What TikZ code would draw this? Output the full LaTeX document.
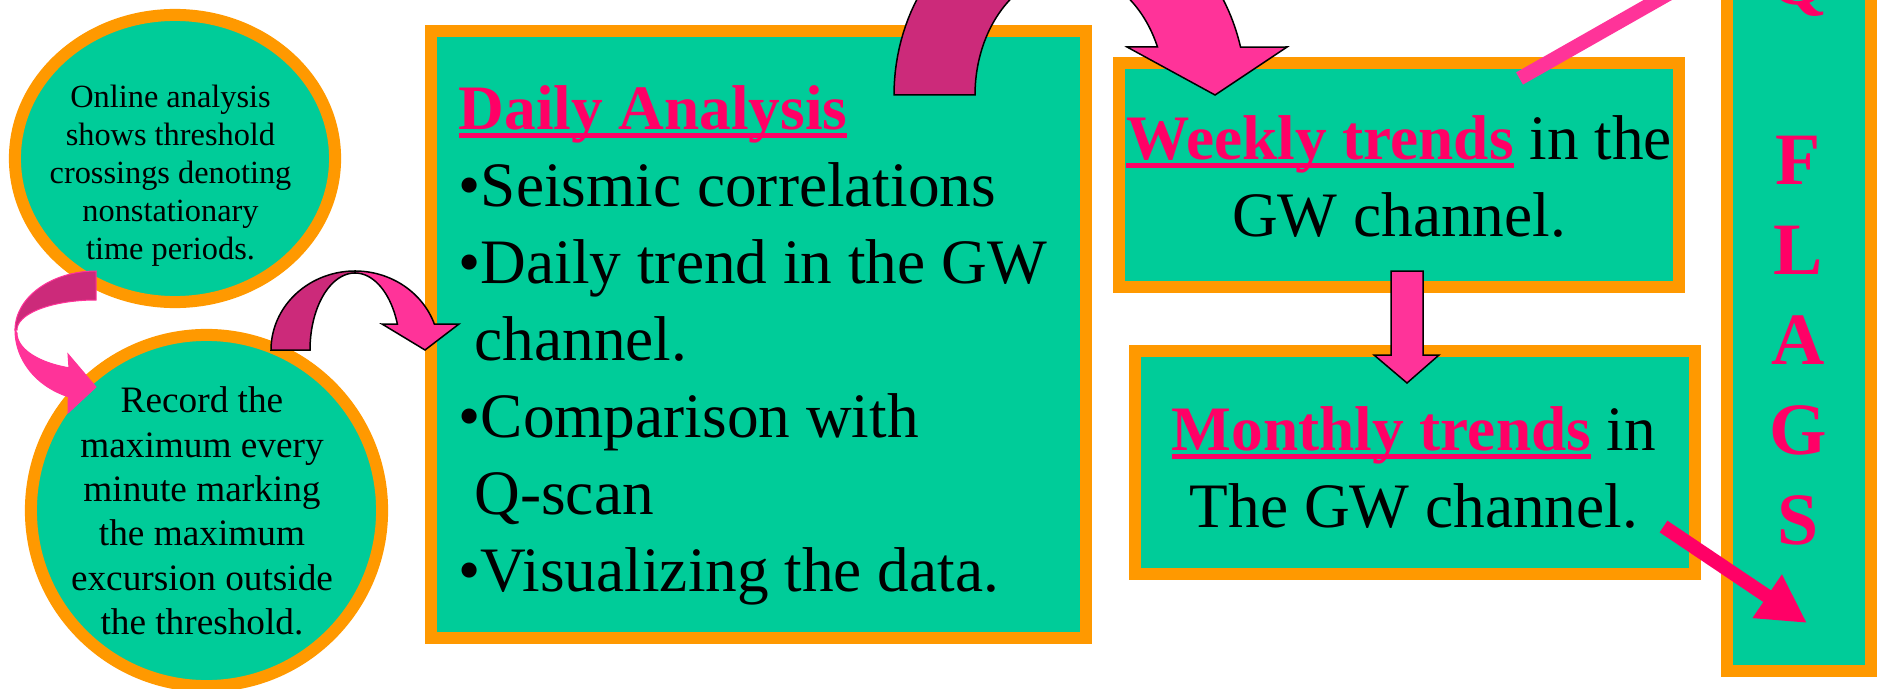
\documentclass[tikz,border=0pt]{standalone}
\usepackage{fontspec}
\setmainfont{Liberation Serif}
\usetikzlibrary{arrows.meta,positioning,shapes.geometric}
\definecolor{seagreen}{HTML}{00CC99}
\definecolor{amber}{HTML}{FF9900}
\definecolor{hotpink}{HTML}{FF3399}
\definecolor{rosered}{HTML}{FF0066}
\definecolor{plum}{HTML}{CC2A7A}
\newsavebox{\ulbox}
\newcommand{\headul}[1]{\sbox{\ulbox}{#1}\rlap{\rule[-0.14em]{\wd\ulbox}{0.09em}}\usebox{\ulbox}}

\begin{document}
\begin{tikzpicture}[x=0.01cm,y=-0.01cm,
  panel/.style={draw=amber,line width=0.12cm,fill=seagreen,inner sep=0pt},
  ribbonback/.style={fill=plum,draw=black,line width=0.015cm},
  ribbonfront/.style={fill=hotpink,draw=black,line width=0.015cm},
  bodytext/.style={inner sep=0pt,font=\fontsize{18}{21.9}\selectfont}]
  \useasboundingbox (0,0) rectangle (1877,688);
  \clip (0,0) rectangle (1877,688);
  \fill[white] (0,0) rectangle (1877,688);
  % panels
  \node[panel,ellipse,minimum width=3.2cm,minimum height=2.87cm] (online) at (175,158.5) {};
  \node[panel,circle,minimum size=3.51cm] (record) at (206.5,510.5) {};
  \node[panel,minimum width=6.55cm,minimum height=6.07cm] (daily) at (758.5,334.5) {};
  \node[panel,minimum width=5.6cm,minimum height=2.24cm] (weekly) at (1399,175) {};
  \node[panel,minimum width=5.6cm,minimum height=2.23cm] (monthly) at (1415,462.5) {};
  \node[panel,minimum width=1.44cm,minimum height=7.71cm] (flags) at (1799,285.5) {};
  % texts
  \node[inner sep=0pt,align=center,font=\fontsize{9.2}{10.8}\selectfont] (onlinetxt) at (170.5,175.5)
    {Online analysis\\shows threshold\\crossings denoting\\nonstationary\\time periods.};
  \node[inner sep=0pt,align=center,font=\fontsize{10.6}{12.63}\selectfont] (recordtxt) at (202,511)
    {Record the\\maximum every\\minute marking\\the maximum\\excursion outside\\the threshold.};
  \node[bodytext,align=left,anchor=west] (dailytxt) at (458,345.5)
    {{\color{rosered}\headul{\textbf{Daily Analysis}}}\\
     •Seismic correlations\\
     •Daily trend in the GW\\
     \hspace*{0.25em}channel.\\
     •Comparison with\\
     \hspace*{0.25em}Q-scan\\
     •Visualizing the data.};
  \node[bodytext,align=center] (weeklytxt) at (1399,176.5)
    {{\color{rosered}\headul{\textbf{Weekly trends}}} in the\\GW channel.};
  \node[bodytext,align=center] (monthlytxt) at (1414,467.5)
    {{\color{rosered}\headul{\textbf{Monthly trends}}} in\\The GW channel.};
  \node[inner sep=0pt,align=center,text=rosered,font=\bfseries\fontsize{21}{25.6}\selectfont] (flagstxt) at (1798,250.5)
    {Q\\[25.6pt]F\\L\\A\\G\\S};
  % curved block arrows
  \filldraw[fill=plum,draw=hotpink,line width=0.01cm]
    plot[variable=\t,domain=270:180,samples=40] ({96+81*cos(\t)},{330+59*sin(\t)})
    -- plot[variable=\t,domain=180:270,samples=40] ({96+79*cos(\t)},{330+30*sin(\t)}) -- cycle;
  \filldraw[fill=hotpink,draw=hotpink,line width=0.01cm]
    plot[variable=\t,domain=180:110,samples=40] ({96+81*cos(\t)},{330+71*sin(\t)})
    -- (68,413) -- (96,387) -- (68,354)
    -- plot[variable=\t,domain=110:180,samples=40] ({96+79*cos(\t)},{333+37*sin(\t)}) -- cycle;
  \filldraw[ribbonback]
    plot[variable=\t,domain=180:270,samples=40] ({355+84*cos(\t)},{350+79*sin(\t)})
    -- plot[variable=\t,domain=270:180,samples=40] ({355+45*cos(\t)},{350+77*sin(\t)}) -- cycle;
  \filldraw[ribbonfront]
    plot[variable=\t,domain=270:340.8,samples=40] ({355+84*cos(\t)},{350+79*sin(\t)})
    -- (459,324) -- (425,350) -- (382,324)
    -- plot[variable=\t,domain=340.3:270,samples=40] ({355+45*cos(\t)},{350+77*sin(\t)}) -- cycle;
  \filldraw[ribbonback]
    plot[variable=\t,domain=180:270,samples=40] ({1070+176*cos(\t)},{95+194*sin(\t)})
    -- plot[variable=\t,domain=270:180,samples=40] ({1070+95*cos(\t)},{95+123*sin(\t)}) -- cycle;
  \filldraw[ribbonfront]
    plot[variable=\t,domain=270:345.7,samples=40] ({1070+176*cos(\t)},{95+194*sin(\t)})
    -- (1287,47) -- (1215,95) -- (1127,47)
    -- plot[variable=\t,domain=337:270,samples=40] ({1070+95*cos(\t)},{95+123*sin(\t)}) -- cycle;
  % weekly to monthly
  \filldraw[ribbonfront] (1391,271) -- (1423,271) -- (1423,355) -- (1439,355)
    -- (1407,383) -- (1374,355) -- (1391,355) -- cycle;
  % links to the flags
  \coordinate (wklink) at (1519.5,78.5);
  \coordinate (wkfar) at (1700,-24);
  \draw[hotpink,line width=0.14cm] (wklink) -- (wkfar);
  \coordinate (mofoot) at (1663.5,526.5);
  \coordinate (flagtip) at (1807,623);
  \draw[rosered,line width=0.14cm,-{Triangle[length=0.48cm,width=0.49cm]}] (mofoot) -- (flagtip);
\end{tikzpicture}
\end{document}
